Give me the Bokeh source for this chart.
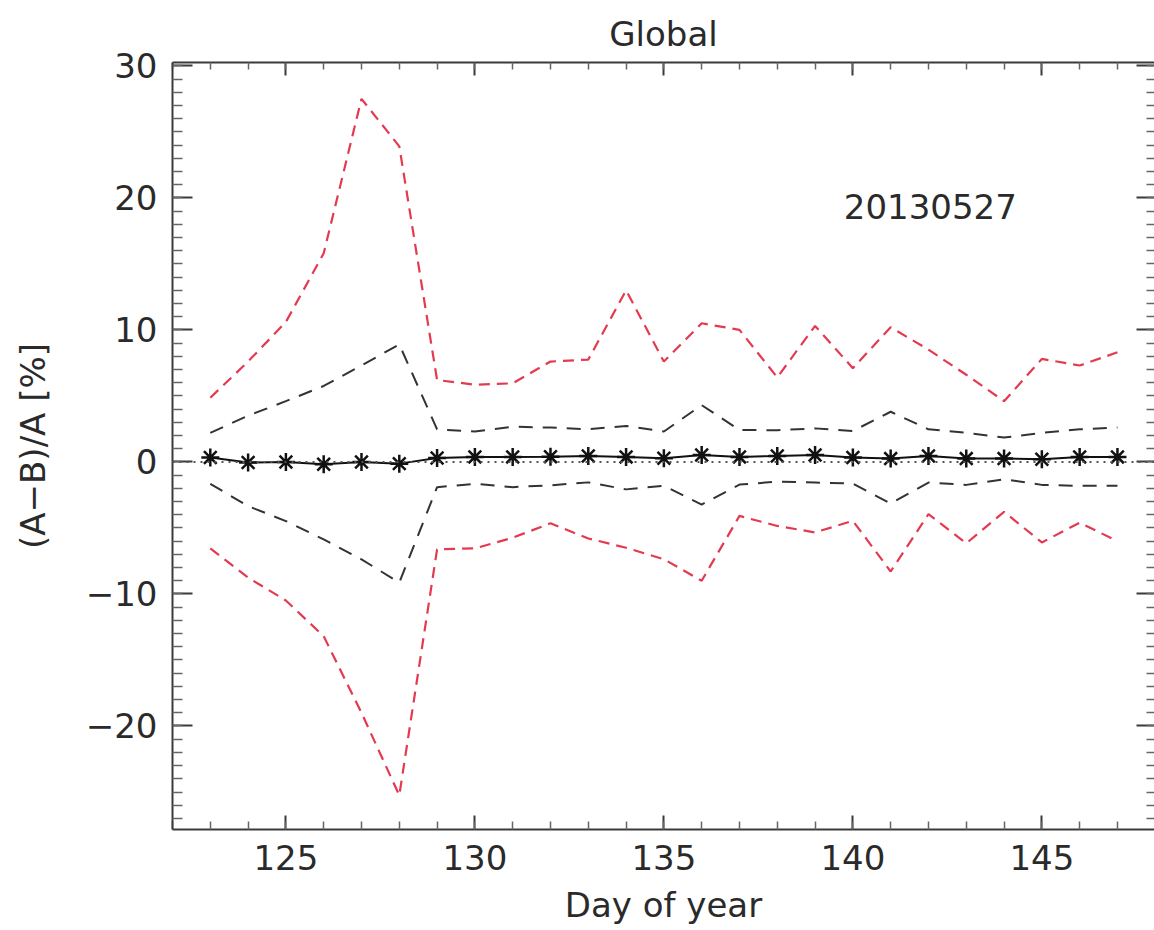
from bokeh.plotting import figure
from bokeh.models import (Range1d, LinearAxis, Span, Label, Title,
                          SingleIntervalTicker, CustomJSTickFormatter)
from bokeh.embed import file_html
from bokeh.resources import INLINE

# ---------------- data ----------------
days = list(range(123, 148))
red_upper = [4.86, 7.6, 10.6, 15.8, 27.5, 23.9, 6.2, 5.85, 5.95, 7.6, 7.75, 13.0,
             7.6, 10.5, 10.0, 6.4, 10.3, 7.1, 10.2, 8.5, 6.6, 4.6, 7.8, 7.3, 8.3]
black_upper = [2.2, 3.5, 4.6, 5.75, 7.3, 8.9, 2.47, 2.3, 2.67, 2.6, 2.47, 2.72,
               2.3, 4.3, 2.42, 2.4, 2.54, 2.34, 3.8, 2.47, 2.2, 1.84, 2.2, 2.47, 2.6]
mean_diff = [0.33, -0.05, 0.0, -0.18, 0.0, -0.13, 0.3, 0.38, 0.38, 0.4, 0.45, 0.38,
             0.28, 0.53, 0.38, 0.45, 0.53, 0.33, 0.25, 0.45, 0.25, 0.25, 0.2, 0.38, 0.38]
black_lower = [-1.66, -3.35, -4.48, -5.87, -7.38, -9.14, -1.91, -1.66, -1.91, -1.77,
               -1.55, -2.08, -1.8, -3.23, -1.72, -1.49, -1.56, -1.64, -3.15, -1.56,
               -1.74, -1.31, -1.74, -1.81, -1.81]
red_lower = [-6.55, -8.76, -10.5, -13.2, -19.0, -25.25, -6.62, -6.55, -5.74, -4.65,
             -5.8, -6.5, -7.37, -9.0, -4.09, -4.85, -5.34, -4.46, -8.3, -3.95,
             -6.17, -3.78, -6.1, -4.6, -6.0]
title_text = "Global"
date_text = "20130527"
x_label = "Day of year"
y_label = "(A\u2212B)/A [%]"

FONT = "DejaVu Sans"
FS = "34px"
TXT = "#2a2a2a"
AX = "#3a3a3a"

p = figure(width=1154, height=930, output_backend="svg", toolbar_location=None,
           x_range=Range1d(122.0, 147.98), y_range=Range1d(-27.84, 30.25),
           min_border_left=172, min_border_right=0, min_border_top=62,
           min_border_bottom=101, x_axis_location=None, y_axis_location=None)
p.outline_line_color = None
p.xgrid.visible = False
p.ygrid.visible = False
p.background_fill_color = "white"
p.border_fill_color = "white"

xt = SingleIntervalTicker(interval=5, num_minor_ticks=5)
yt = SingleIntervalTicker(interval=10, num_minor_ticks=10)
blank = CustomJSTickFormatter(code="return '';")


def style(ax, maj_in, min_in, labels=True):
    ax.major_tick_in = maj_in
    ax.major_tick_out = 0
    ax.minor_tick_in = min_in
    ax.minor_tick_out = 0
    ax.major_tick_line_color = AX
    ax.major_tick_line_width = 2
    ax.minor_tick_line_color = "#666666"
    ax.minor_tick_line_width = 1.5
    ax.axis_line_color = AX
    ax.axis_line_width = 2
    if labels:
        ax.major_label_text_font = FONT
        ax.major_label_text_font_size = FS
        ax.major_label_text_color = TXT
        ax.axis_label_text_font = FONT
        ax.axis_label_text_font_size = FS
        ax.axis_label_text_font_style = "normal"
        ax.axis_label_text_color = TXT
    else:
        ax.formatter = blank
        ax.major_label_standoff = 0


bottom = LinearAxis(ticker=xt, axis_label=x_label)
style(bottom, 14, 8)
bottom.major_label_standoff = 15
bottom.axis_label_standoff = 12
p.add_layout(bottom, "below")

left = LinearAxis(ticker=yt, axis_label=y_label)
style(left, 20, 10)
left.major_label_standoff = 15
left.axis_label_standoff = 30
left.major_label_overrides = {-10: "\u221210", -20: "\u221220"}
p.add_layout(left, "left")

top = LinearAxis(ticker=SingleIntervalTicker(interval=5, num_minor_ticks=5))
style(top, 13, 7, labels=False)
p.add_layout(top, "above")

right = LinearAxis(ticker=SingleIntervalTicker(interval=10, num_minor_ticks=10))
style(right, 18, 8, labels=False)
right.axis_line_color = None
p.add_layout(right, "right")

t = Title(text=title_text, align="center", text_font=FONT, text_font_size=FS,
          text_font_style="normal", text_color=TXT, standoff=18)
p.add_layout(t, "above")

p.add_layout(Span(location=0, dimension="width", line_color="#555555",
                  line_width=2, line_dash="2 5"))

p.line(days, red_upper, line_color="#e33a50", line_width=2.2, line_dash="11 7")
p.line(days, red_lower, line_color="#e33a50", line_width=2.2, line_dash="11 7")
p.line(days, black_upper, line_color="#333333", line_width=2, line_dash="14 10")
p.line(days, black_lower, line_color="#333333", line_width=2, line_dash="14 10")
p.line(days, mean_diff, line_color="#111111", line_width=2)
p.scatter(days, mean_diff, marker="asterisk", size=18, line_color="#111111",
          line_width=2.5)

p.add_layout(Label(x=142.05, y=19.35, text=date_text, text_align="center",
                   text_baseline="middle", text_font=FONT, text_font_size=FS,
                   text_color=TXT))

open("out.html", "w").write(file_html(p, INLINE))
